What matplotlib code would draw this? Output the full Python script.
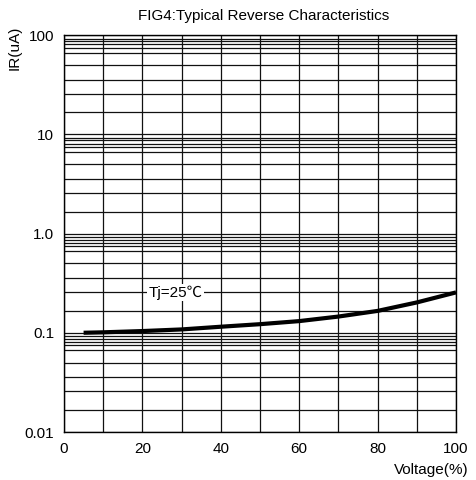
import matplotlib
matplotlib.use("Agg")
import matplotlib.pyplot as plt
from matplotlib.ticker import FixedLocator, NullFormatter

plt.rcParams['font.family'] = ['Liberation Sans', 'DejaVu Sans']

# curve
voltage = [5, 10, 20, 30, 40, 50, 60, 70, 80, 90, 100]
ir_ua = [0.100, 0.101, 0.104, 0.108, 0.115, 0.122, 0.131, 0.1456, 0.166, 0.202, 0.255]

y_ticks = [0.01, 0.1, 1.0, 10, 100]
y_tick_labels = ["0.01", "0.1", "1.0", "10", "100"]
x_ticks = [0, 20, 40, 60, 80, 100]

# the printed chart paper has its own minor line spacing inside each decade
grid_subs = [1.66, 2.57, 3.55, 5.0, 6.64, 7.45, 8.05, 8.69, 9.18]

fig = plt.figure(figsize=(4.76, 4.80), dpi=100)
ax = fig.add_axes([64 / 476, 1 - 432 / 480, 392 / 476, 397 / 480])

ax.set_yscale("log")
ax.set_xlim(0, 100)
ax.set_ylim(0.01, 100)

ax.plot(voltage, ir_ua, color="black", linewidth=3, solid_capstyle="butt",
        solid_joinstyle="round", zorder=3)

# grid: every 10 on x, chart paper lines on y
minor_y = [d * s for d in [0.01, 0.1, 1, 10] for s in grid_subs]
ax.xaxis.set_minor_locator(FixedLocator(range(0, 101, 10)))
ax.yaxis.set_minor_locator(FixedLocator(minor_y))
ax.yaxis.set_minor_formatter(NullFormatter())
ax.grid(which="both", color="#111111", linewidth=0.9)
ax.set_xticks(x_ticks)
ax.set_yticks(y_ticks)
ax.set_yticklabels(y_tick_labels)
ax.tick_params(which="both", length=0, labelsize=11)
ax.tick_params(axis="x", pad=7)
ax.tick_params(axis="y", pad=7)
for s in ax.spines.values():
    s.set_linewidth(1.0)

ax.text(28.4, 0.255, "Tj=25℃", fontsize=11, ha="center", va="center",
        family=['Liberation Sans', 'Noto Sans CJK SC', 'DejaVu Sans'],
        bbox=dict(facecolor="white", edgecolor="none", pad=1), zorder=4)

fig.text(264 / 476, 1 - 16 / 480, "FIG4:Typical Reverse Characteristics",
         ha="center", va="center", fontsize=11)
fig.text(15 / 476, 1 - 48 / 480, "IR(uA)", rotation=90, ha="center", va="center", fontsize=11)
fig.text(469 / 476, 1 - 470 / 480, "Voltage(%)", ha="right", va="center", fontsize=11)

fig.savefig("out.png", dpi=100)
